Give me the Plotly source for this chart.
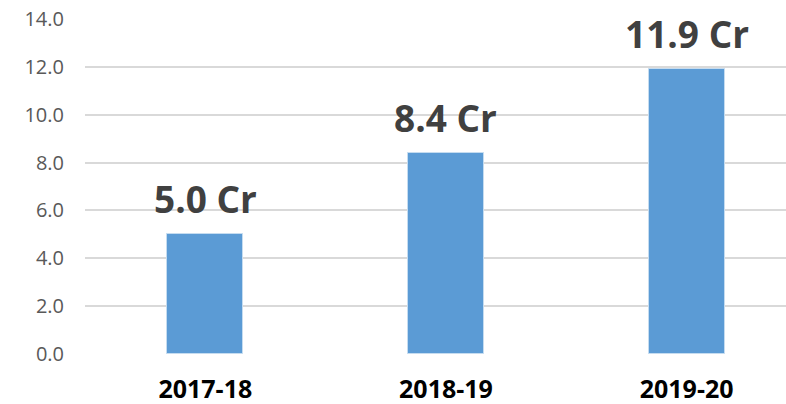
import plotly.graph_objects as go

categories = ["2017-18", "2018-19", "2019-20"]
values = [5.0, 8.4, 11.9]
labels = ["5.0 Cr", "8.4 Cr", "11.9 Cr"]
y_ticks = [0, 2, 4, 6, 8, 10, 12, 14]
y_tick_text = ["0.0", "2.0", "4.0", "6.0", "8.0", "10.0", "12.0", "14.0"]

fig = go.Figure()
fig.add_trace(go.Bar(
    x=list(range(len(categories))), y=values, width=0.316,
    marker=dict(color="#5b9bd5", line=dict(color="#c5dcf0", width=1)),
    hoverinfo="skip",
))
for i, (v, t) in enumerate(zip(values, labels)):
    fig.add_annotation(x=i, y=v, text=t, showarrow=False, yanchor="bottom", yshift=8,
                       font=dict(family="Open Sans", size=37, color="#404040", weight="bold"))

fig.update_layout(
    width=786, height=404,
    margin=dict(l=85, r=0, t=19, b=50, pad=0, autoexpand=False),
    paper_bgcolor="white", plot_bgcolor="white",
    showlegend=False,
    bargap=0,
)
fig.update_xaxes(
    range=[-0.5, 2.413], tickmode="array", tickvals=list(range(len(categories))),
    ticktext=categories, showgrid=False, zeroline=False, showline=False,
    tickfont=dict(family="Open Sans", size=25, color="#000000", weight="bold"),
    ticks="", ticklabelstandoff=18, automargin=False,
)
fig.update_yaxes(
    range=[0, 14], tickmode="array", tickvals=y_ticks, ticktext=y_tick_text,
    showgrid=True, gridcolor="#d9d9d9", gridwidth=1.5, zeroline=False, showline=False,
    tickfont=dict(family="Open Sans", size=20, color="#595959"),
    ticks="", ticklabelstandoff=20, automargin=False,
)
fig.write_html(
    "out.html",
    config={"displayModeBar": False},
    post_script="document.body.style.margin='0';document.body.style.overflow='hidden';",
)
